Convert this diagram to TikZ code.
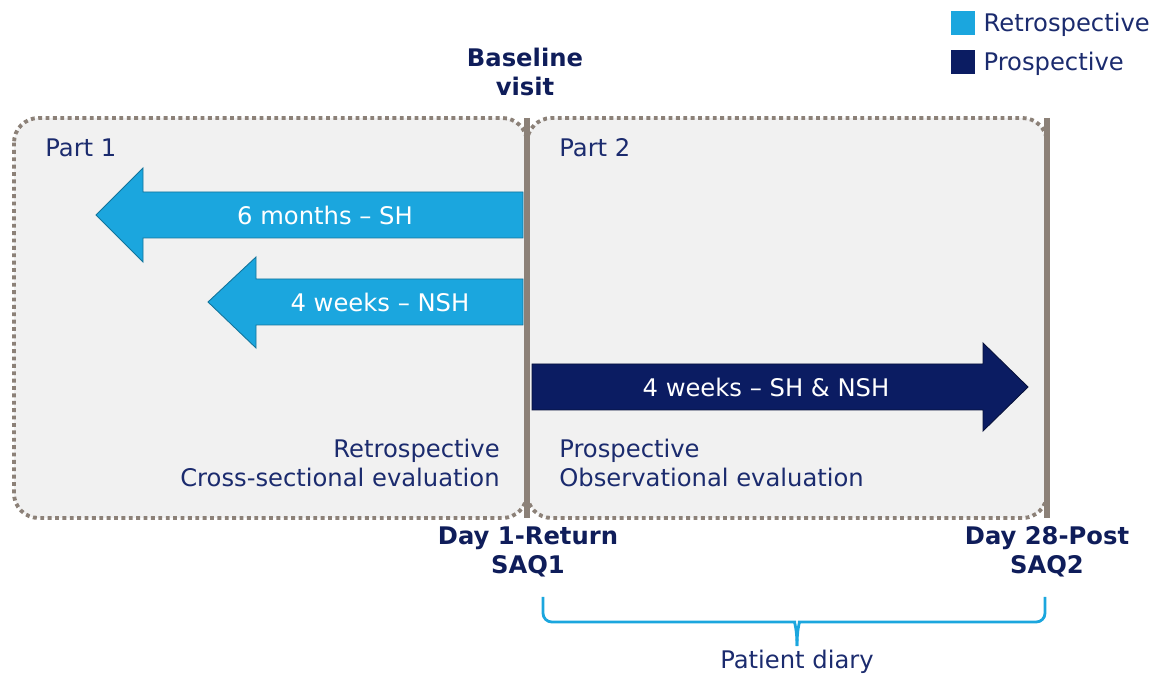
\documentclass[tikz,border=0pt]{standalone}
\usepackage{fontspec}
\setmainfont{DejaVu Sans}
\usetikzlibrary{positioning}
\definecolor{retro}{HTML}{1BA6DE}
\definecolor{prosp}{HTML}{0B1C62}
\definecolor{inktext}{HTML}{1B2B6E}
\definecolor{keytext}{HTML}{0F1D5A}
\definecolor{boxline}{HTML}{8C8178}
\definecolor{boxfill}{HTML}{F1F1F1}
\newcommand{\labelfont}{\fontsize{13.8}{16.3}\selectfont}
\tikzset{
  partbox/.style={draw=boxline, fill=boxfill, line width=2.2pt, dash pattern=on 2.2pt off 2pt, rounded corners=14pt},
  milestone/.style={draw=boxline, line width=3.4pt},
  retroarrow/.style={fill=retro, draw=retro!70!black, line width=0.5pt, line join=miter},
  prosarrow/.style={fill=prosp, draw=prosp!60!black, line width=0.5pt, line join=miter},
  arrowlabel/.style={text=white, font=\labelfont, inner sep=0pt},
  plain/.style={text=inktext, font=\labelfont, inner sep=0pt},
  keylabel/.style={text=keytext, font=\labelfont\bfseries, align=center, inner sep=0pt},
  legendbox/.style={minimum size=13.6pt, inner sep=0pt},
  diary/.style={draw=retro, line width=1.6pt}
}

\begin{document}
\begin{tikzpicture}[x=0.02cm, y=-0.02cm]
  \useasboundingbox (0,0) rectangle (1154,675);
  % legend
  \node[legendbox, fill=retro] (lretro) at (963,23) {};
  \node[legendbox, fill=prosp] (lprosp) at (963,62) {};
  \node[plain, right=4.5pt of lretro, yshift=-1.2pt] (lretrotext) {Retrospective};
  \node[plain, right=4.5pt of lprosp, yshift=-1.2pt] (lprosptext) {Prospective};
  % the two parts
  \draw[partbox] (14,118) rectangle (527,518);
  \draw[partbox] (527,118) rectangle (1047,518);
  \coordinate (base top) at (527,118);
  \coordinate (base bot) at (527,518);
  \coordinate (end top) at (1047,118);
  \coordinate (end bot) at (1047,518);
  \draw[milestone] (base top) -- (base bot);
  \draw[milestone] (end top) -- (end bot);
  \node[plain, anchor=west] (part1) at (45,148) {Part 1};
  \node[plain, anchor=west] (part2) at (559,148) {Part 2};
  % arrows
  \filldraw[retroarrow] (523,192) -- (143,192) -- (143,168) -- (96,215) -- (143,262) -- (143,238) -- (523,238) -- cycle;
  \node[arrowlabel] (sixmonths) at (325,215) {6 months – SH};
  \filldraw[retroarrow] (523,279) -- (256,279) -- (256,257) -- (208,302) -- (256,348) -- (256,325) -- (523,325) -- cycle;
  \node[arrowlabel] (fourweeks) at (380,302) {4 weeks – NSH};
  \filldraw[prosarrow] (532,364) -- (983,364) -- (983,343) -- (1028,387) -- (983,431) -- (983,410) -- (532,410) -- cycle;
  \node[arrowlabel] (followup) at (766,387) {4 weeks – SH \& NSH};
  % evaluations
  \node[plain, anchor=east, align=right] (retroeval) at (500,463) {Retrospective\\Cross-sectional evaluation};
  \node[plain, anchor=west, align=left] (proseval) at (559,463) {Prospective\\Observational evaluation};
  % milestones
  \node[keylabel] (baseline) at (525,72) {Baseline\\visit};
  \node[keylabel] (dayone) at (528,552) {Day 1-Return\\SAQ1};
  \node[keylabel] (daylast) at (1047,552) {Day 28-Post\\SAQ2};
  % patient diary
  \coordinate (diary l) at (543,597);
  \coordinate (diary r) at (1045,597);
  \coordinate (diary tip) at (797,646);
  \draw[diary, rounded corners=5pt] (diary l) |- (786,622) .. controls (794,622) and (797,628) .. (diary tip);
  \draw[diary, rounded corners=5pt] (diary r) |- (808,622) .. controls (800,622) and (797,628) .. (diary tip);
  \node[plain, below=2pt of diary tip] (diarytext) {Patient diary};
\end{tikzpicture}
\end{document}
